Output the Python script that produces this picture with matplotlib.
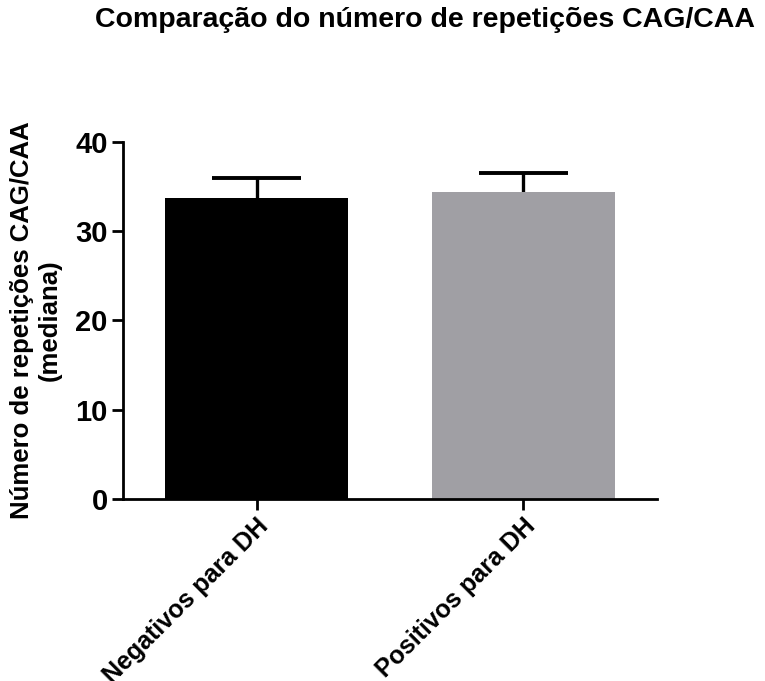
import matplotlib.pyplot as plt

plt.rcParams['font.family'] = ['Liberation Sans', 'DejaVu Sans']
plt.rcParams['font.weight'] = 'bold'

# median number of CAG/CAA repeats per group, with upward error bars
groups = ['Negativos para DH', 'Positivos para DH']
medians = [33.7, 34.4]
errors = [2.3, 2.1]
colors = ['#000000', '#a09fa4']

fig = plt.figure(figsize=(7.65, 6.81), dpi=100)
ax = fig.add_axes([0.1608, 0.2673, 0.698, 0.5242])

x = list(range(len(groups)))
ax.bar(x, medians, width=0.684, color=colors, zorder=2)

# only the upper half of each error bar, GraphPad style
tops = [m + e for m, e in zip(medians, errors)]
ax.vlines(x, medians, tops, color='black', linewidth=2.4, zorder=1)
ax.hlines(tops, [i - 0.165 for i in x], [i + 0.165 for i in x],
          color='black', linewidth=2.8, zorder=1)

ax.set_xlim(-0.5, 1.5)
ax.set_ylim(0, 40)
ax.set_yticks([0, 10, 20, 30, 40])
ax.set_xticks(x)
ax.set_xticklabels(groups, rotation=45, ha='right', rotation_mode='anchor',
                   fontsize=18, fontweight='bold')
for lbl in ax.get_yticklabels():
    lbl.set_fontsize(21)
    lbl.set_fontweight('bold')

for side in ['top', 'right']:
    ax.spines[side].set_visible(False)
for side in ['left', 'bottom']:
    ax.spines[side].set_linewidth(2.0)
ax.tick_params(axis='both', width=2.0, length=8, pad=3)

ax.set_ylabel('Número de repetições CAG/CAA\n(mediana)', fontsize=18.5,
              fontweight='bold', labelpad=10)

fig.text(425 / 765, 1 - 20 / 681, 'Comparação do número de repetições CAG/CAA',
         ha='center', va='center', fontsize=20.5, fontweight='bold')

fig.savefig('out.png', dpi=100)
